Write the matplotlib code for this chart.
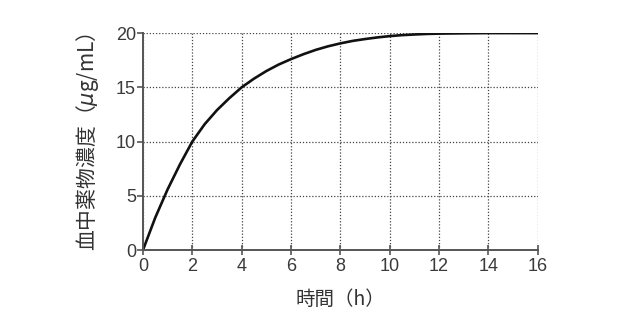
import matplotlib
matplotlib.use('Agg')
import matplotlib.pyplot as plt

plt.rcParams['font.family'] = ['Noto Sans CJK JP', 'DejaVu Sans']

# concentration, every half hour
hours = [0, 0.5, 1, 1.5, 2, 2.5, 3, 3.5, 4, 4.5, 5, 5.5, 6, 6.5, 7, 7.5, 8,
         8.5, 9, 9.5, 10, 10.5, 11, 11.5, 12, 13, 14, 15, 16]
conc = [0, 3.0, 5.6, 7.9, 10, 11.6, 12.9, 14.0, 15, 15.8, 16.5, 17.1, 17.6, 18.05,
        18.45, 18.78, 19.05, 19.28, 19.45, 19.6, 19.72, 19.81, 19.87, 19.92, 19.95,
        19.98, 20, 20, 20]
xticks = [0, 2, 4, 6, 8, 10, 12, 14, 16]
yticks = [0, 5, 10, 15, 20]

fig = plt.figure(figsize=(6.41, 3.15), dpi=100)
ax = fig.add_axes([0.223, 0.206, 0.616, 0.689])

ax.plot(hours, conc, color='#111111', lw=1.9, solid_capstyle='round')

ax.set_xlim(0, 16)
ax.set_ylim(0, 20)
ax.set_xticks(xticks)
ax.set_yticks(yticks)
ax.grid(True, linestyle=(0, (1, 1.5)), color='#444444', lw=0.9)

for s in ['top', 'right']:
    ax.spines[s].set_visible(False)
for s in ['left', 'bottom']:
    ax.spines[s].set_color('#555555')
    ax.spines[s].set_linewidth(1.4)

ax.tick_params(axis='x', direction='inout', length=7, width=1.2, color='#555555',
               labelsize=13, labelcolor='#3a3a3a', pad=2)
ax.tick_params(axis='y', direction='out', length=4, width=1.2, color='#555555',
               labelsize=13, labelcolor='#3a3a3a', pad=1)
for lab in ax.get_xticklabels() + ax.get_yticklabels():
    lab.set_family(['Liberation Sans', 'DejaVu Sans'])

ax.set_xlabel('時間（h）', fontsize=14, color='#333333', labelpad=10)
ax.set_ylabel('血中薬物濃度（$\\mu$g/mL）', fontsize=15, color='#333333', labelpad=11)

fig.savefig('out.png', dpi=100)
